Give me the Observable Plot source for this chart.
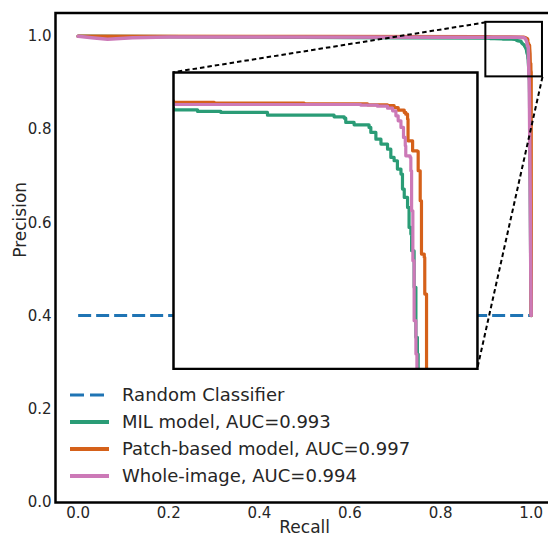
<!DOCTYPE html>
<html><head><meta charset="utf-8">
<script src="https://cdn.jsdelivr.net/npm/d3@7"></script>
<script src="https://cdn.jsdelivr.net/npm/@observablehq/plot@0.6"></script>
<style>
html,body{margin:0;padding:0;background:#fff;overflow:hidden}
#wrap{position:relative;width:548px;height:536px;overflow:hidden;font-family:"DejaVu Sans",sans-serif}
#wrap > svg{position:absolute;left:0;top:0}
</style></head><body><div id="wrap"></div>
<script>
// ---- data ----
const seriesNames = ["Random Classifier", "MIL model, AUC=0.993", "Patch-based model, AUC=0.997", "Whole-image, AUC=0.994"];
const seriesColors = ["#1f74b4", "#2a9c76", "#d5611a", "#cc79b7"];
const xTicks = [0, 0.2, 0.4, 0.6, 0.8, 1.0];
const yTicks = [0, 0.2, 0.4, 0.6, 0.8, 1.0];
const xDomain = [-0.05, 1.05];
const yDomain = [0, 1.05];

// [recall, precision]
const randomCurve = [[0, 0.401], [1, 0.401]];
const milCurve = [[0,1.0],[0.35,0.9985],[0.7,0.997],[0.9,0.99616],[0.9095,0.99603],[0.9095,0.99554],[0.9187,0.99554],[0.9187,0.99517],[0.9371,0.99480],[0.9371,0.99418],[0.9569,0.99418],[0.9634,0.99356],[0.9674,0.99307],[0.9680,0.99146],[0.9713,0.99060],[0.9772,0.98961],[0.9779,0.98775],[0.9799,0.98528],[0.9819,0.98343],[0.9845,0.98157],[0.9858,0.97848],[0.9871,0.97725],[0.9884,0.97416],[0.9898,0.97230],[0.9904,0.96674],[0.9911,0.96365],[0.9924,0.95994],[0.9930,0.95253],[0.9937,0.95005],[0.9940,0.94387],[0.9950,0.93028],[0.9957,0.91174],[0.9963,0.90556],[0.9966,0.88],[1.0,0.401]];
const patchCurve = [[0,1.0],[0.5,0.9995],[0.9,0.99888],[0.9161,0.99863],[0.9516,0.99838],[0.9766,0.99801],[0.9845,0.99776],[0.9871,0.99702],[0.9887,0.99603],[0.9911,0.99517],[0.9917,0.99455],[0.9924,0.99270],[0.9926,0.98466],[0.9944,0.98404],[0.9944,0.98095],[0.9963,0.98071],[0.9966,0.97354],[0.9974,0.96241],[0.9979,0.94264],[0.9990,0.94140],[0.9992,0.92780],[0.9999,0.92286],[0.9999,0.88],[1.0,0.401]];
const wholeCurve = [[0,1.0],[0.03,0.997],[0.065,0.9935],[0.12,0.997],[0.2,0.9985],[0.9,0.99813],[0.9740,0.99789],[0.9805,0.99752],[0.9845,0.99678],[0.9865,0.99579],[0.9878,0.99393],[0.9887,0.99208],[0.9898,0.98961],[0.9908,0.98590],[0.9915,0.98281],[0.9917,0.97910],[0.9934,0.97848],[0.9937,0.97354],[0.9940,0.95871],[0.9945,0.94017],[0.9950,0.91792],[0.9957,0.90556],[0.9961,0.88],[1.0,0.401]];

const zoomBox = {x1: 0.90, x2: 1.025, y1: 0.913, y2: 1.03};   // region marked on the main axes
const insetBox = {x1: 0.21, x2: 0.881, y1: 0.287, y2: 0.923}; // where the inset sits (main data units)
const insetXDomain = [0.90, 1.02];
const insetYDomain = [0.90, 1.01];

// ---- build ----
const curves = [milCurve, patchCurve, wholeCurve];
const font = "DejaVu Sans";
const textColor = "#262626";

const connectors = [
  {x1: zoomBox.x1, y1: zoomBox.y2, x2: insetBox.x1, y2: insetBox.y2},
  {x1: zoomBox.x2, y1: zoomBox.y1, x2: insetBox.x2, y2: insetBox.y1}
];

const main = Plot.plot({
  width: 548, height: 536,
  marginLeft: 55, marginTop: 12.5, marginBottom: 34, marginRight: -5.3,
  x: {domain: xDomain},
  y: {domain: yDomain},
  style: {fontFamily: font, fontSize: "15px", color: textColor, background: "transparent"},
  marks: [
    Plot.line(randomCurve, {x: d => d[0], y: d => d[1], stroke: seriesColors[0], strokeWidth: 3, strokeDasharray: "13,5", strokeLinecap: "butt"}),
    ...curves.map((c, i) => Plot.line(c, {x: d => d[0], y: d => d[1], stroke: seriesColors[i + 1], strokeWidth: 3.5, clip: true})),
    Plot.rect([zoomBox], {x1: "x1", x2: "x2", y1: "y1", y2: "y2", fill: "none", stroke: "black", strokeWidth: 2}),
    Plot.link(connectors, {x1: "x1", y1: "y1", x2: "x2", y2: "y2", stroke: "black", strokeWidth: 2, strokeDasharray: "4.5,3"}),
    Plot.frame({stroke: "black", strokeWidth: 2.5}),
    Plot.axisX({ticks: xTicks, tickFormat: ".1f", tickSize: 0, tickPadding: 5, label: null}),
    Plot.axisY({ticks: yTicks, tickFormat: ".1f", tickSize: 0, tickPadding: 4, label: null}),
    Plot.text(["Recall"], {text: d => d, frameAnchor: "bottom", dy: 30.5, lineAnchor: "bottom", fontSize: 17}),
    Plot.text(["Precision"], {text: d => d, frameAnchor: "left", dx: -30, rotate: -90, lineAnchor: "bottom", fontSize: 17})
  ]
});
const wrap = document.getElementById("wrap");
wrap.appendChild(main);

// inset
const xs = main.scale("x"), ys = main.scale("y");
const ix1 = xs.apply(insetBox.x1), ix2 = xs.apply(insetBox.x2);
const iyTop = ys.apply(insetBox.y2), iyBot = ys.apply(insetBox.y1);
const pad = 2;
const inset = Plot.plot({
  width: (ix2 - ix1) + 2 * pad, height: (iyBot - iyTop) + 2 * pad,
  margin: pad,
  x: {domain: insetXDomain, axis: null},
  y: {domain: insetYDomain, axis: null},
  style: {background: "transparent", overflow: "hidden"},
  marks: [
    Plot.frame({fill: "white"}),
    ...curves.map((c, i) => Plot.line(c, {x: d => d[0], y: d => d[1], stroke: seriesColors[i + 1], strokeWidth: 3.2, curve: "step-after", clip: true})),
    Plot.frame({stroke: "black", strokeWidth: 2.5})
  ]
});
inset.style.left = (ix1 - pad) + "px";
inset.style.top = (iyTop - pad) + "px";
inset.style.maxWidth = "none";
wrap.appendChild(inset);

// legend
const leg = d3.create("svg").attr("width", 340).attr("height", 120)
  .style("left", "60px").style("top", "375px").style("overflow", "visible");
seriesNames.forEach((name, i) => {
  const y = 20 + i * 27;
  leg.append("line").attr("x1", 10).attr("x2", 49).attr("y1", y).attr("y2", y)
    .attr("stroke", seriesColors[i]).attr("stroke-width", i === 0 ? 3 : 3.8)
    .attr("stroke-dasharray", i === 0 ? "14,6" : null);
  leg.append("text").attr("x", 62).attr("y", y).attr("dy", "0.34em")
    .attr("font-family", font).attr("font-size", 18).attr("fill", textColor).text(name);
});
wrap.appendChild(leg.node());
</script>
</body></html>
